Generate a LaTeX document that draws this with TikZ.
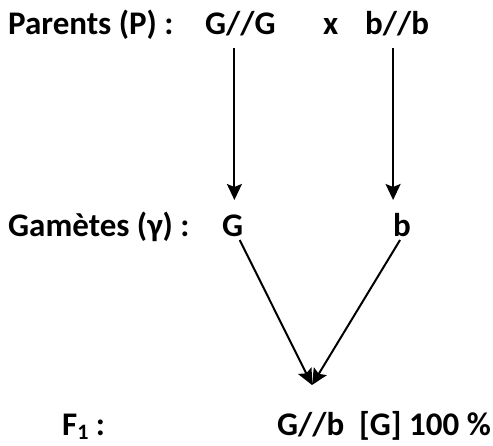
\documentclass[tikz,border=0pt]{standalone}
\usepackage{fontspec}
\setmainfont{Carlito}
\usetikzlibrary{arrows.meta,calc}
\begin{document}
\begin{tikzpicture}[x=1pt,y=1pt,
  lbl/.style={inner sep=0pt,anchor=base west,font=\fontsize{33}{40}\selectfont\bfseries},
  arr/.style={line width=2pt,-{Stealth[length=16pt,width=15pt,inset=3pt]}}]
\useasboundingbox (0,0) rectangle (493,446);
\node[lbl] (par) at (8,411) {Parents (P) :};
\node[lbl] (pGG) at (205,411) {G//G};
\node[lbl] (px) at (323,411) {x};
\node[lbl] (pbb) at (365,411) {b//b};
\node[lbl] (gam) at (8,209) {Gamètes (γ) :};
\node[lbl] (gG) at (222,209) {G};
\node[lbl] (gb) at (393,209) {b};
\node[lbl] (f1) at (62,10) {F\raisebox{-4pt}{\fontsize{22}{26}\selectfont 1} :};
\node[lbl] (res) at (277,10) {G//b\ \ [G] 100 \%};
\coordinate (m) at (312,61);
\draw[arr] ([shift={(-6pt,-13pt)}]pGG.base) coordinate (s1) -- ($(s1 |- gG.base)+(0,37pt)$);
\draw[arr] ([shift={(-4pt,-13pt)}]pbb.base) coordinate (s2) -- ($(s2 |- gb.base)+(0,37pt)$);
\draw[arr] ($(gG.base)+(7pt,-3pt)$) -- (m);
\draw[arr] ($(gb.base)+(-2pt,-3pt)$) -- (m);
\end{tikzpicture}
\end{document}
